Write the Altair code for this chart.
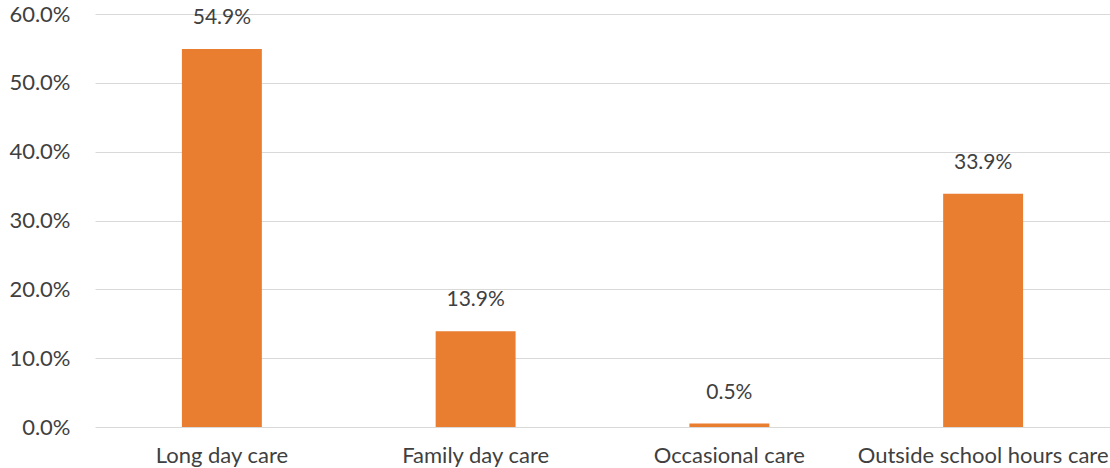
import altair as alt
import pandas as pd

categories = ["Long day care", "Family day care", "Occasional care", "Outside school hours care"]
values = [54.9, 13.9, 0.5, 33.9]
labels = ["54.9%", "13.9%", "0.5%", "33.9%"]

df = pd.DataFrame({"cat": categories, "val": values, "lab": labels})

FONT = "Lato"
TXT = "#404040"

x = alt.X("cat:N", sort=categories, title=None,
          scale=alt.Scale(paddingInner=0.685, paddingOuter=0.3425),
          axis=alt.Axis(labelAngle=0, labelFont=FONT, labelFontSize=22, labelColor=TXT,
                        labelPadding=18, labelLimit=500, labelOverlap=False, labelBound=False,
                        ticks=False, domain=False, grid=False))
y = alt.Y("val:Q", title=None,
          scale=alt.Scale(domain=[0, 60], nice=False),
          axis=alt.Axis(values=[0, 10, 20, 30, 40, 50, 60], labelExpr="format(datum.value, '.1f') + '%'",
                        labelFont=FONT, labelFontSize=22, labelColor=TXT, labelPadding=25,
                        ticks=False, domain=False, grid=True, gridColor="#d9d9d9", gridWidth=1.2))

bars = alt.Chart(df).mark_bar(color="#E97D30").encode(x=x, y=y)
text = alt.Chart(df).mark_text(dy=-31, font=FONT, fontSize=21, color=TXT).encode(
    x=alt.X("cat:N", sort=categories), y="val:Q", text="lab:N")

chart = alt.layer(bars, text).properties(
    width=1015, height=413,
    autosize=alt.AutoSizeParams(type="none"),
    padding={"left": 95, "top": 14, "right": 0, "bottom": 41},
).configure_view(stroke=None)

chart.save("out.html", embed_options={"renderer": "svg", "actions": False})
